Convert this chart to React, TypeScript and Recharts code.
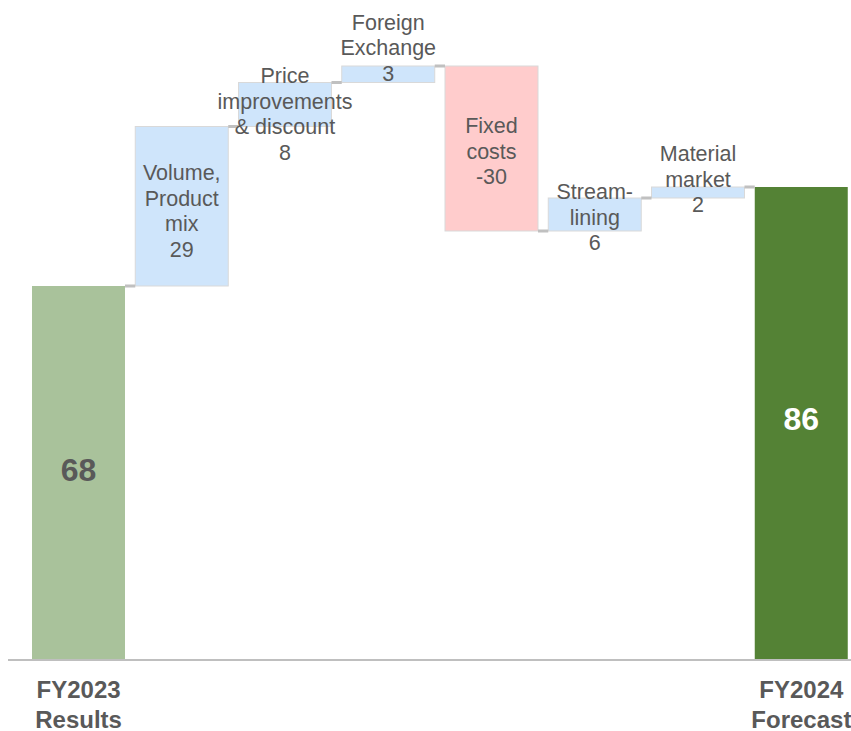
import { Bar, BarChart, Cell, LabelList, XAxis, YAxis } from "recharts";

const categories = [
  "FY2023 Results",
  "Volume, Product mix",
  "Price improvements & discount",
  "Foreign Exchange",
  "Fixed costs",
  "Stream-lining",
  "Material market",
  "FY2024 Forecast",
];
const barLabels = [
  [],
  ["Volume,", "Product", "mix"],
  ["Price", "improvements", "& discount"],
  ["Foreign", "Exchange"],
  ["Fixed", "costs"],
  ["Stream-", "lining"],
  ["Material", "market"],
  [],
];
const tickLabels = [["FY2023", "Results"], [], [], [], [], [], [], ["FY2024", "Forecast"]];
const kinds = ["start", "step", "step", "step", "step", "step", "step", "end"];
const values = [68, 29, 8, 3, -30, 6, 2, 86];

// running total -> invisible base + visible height
let running = 0;
const data = categories.map((name, i) => {
  const v = values[i];
  let base = 0;
  let size = v;
  if (kinds[i] === "step") {
    base = v >= 0 ? running : running + v;
    size = Math.abs(v);
    running += v;
  } else {
    running = v;
  }
  return { name, base, size, value: v, kind: kinds[i], idx: i };
});

const FONT = "'Liberation Sans', Arial, sans-serif";
const TEXT = "#595959";
const GAP = 103.25 - 93;
// manual nudges so the labels don't collide
const labelShift = [-3, 5, 10, -26, 3, 3, -13, -5];

function fillFor(d: any) {
  if (d.kind === "start") return "#a9c29b";
  if (d.kind === "end") return "#548235";
  return d.value < 0 ? "#ffcccc" : "#cfe5fb";
}

function WaterfallBar(props: any) {
  const { x, y, width, height, payload } = props;
  const isStep = payload.kind === "step";
  let level: number | null = null;
  if (payload.kind === "end") level = y;
  else if (isStep) level = payload.value >= 0 ? y + height : y;
  return (
    <g>
      <rect
        x={x}
        y={y}
        width={width}
        height={height}
        fill={fillFor(payload)}
        stroke={isStep ? "#d9d9d9" : "none"}
        strokeWidth={1}
      />
      {level !== null && (
        <rect x={x - GAP} y={level - 1.5} width={GAP} height={3} fill="#c0c0c0" />
      )}
    </g>
  );
}

function BarText(props: any) {
  const { x, y, width, height, index } = props;
  const d = data[index];
  const cx = x + width / 2;
  const cy = y + height / 2 + labelShift[index];
  if (d.kind !== "step") {
    return (
      <text
        x={cx}
        y={cy}
        textAnchor="middle"
        dominantBaseline="central"
        fontFamily={FONT}
        fontWeight="bold"
        fontSize={32}
        fill={d.kind === "end" ? "#ffffff" : TEXT}
      >
        {d.value}
      </text>
    );
  }
  const lines = [...barLabels[index], String(d.value)];
  const lh = 25.5;
  const top = cy - ((lines.length - 1) * lh) / 2;
  return (
    <g>
      {lines.map((t, k) => (
        <text
          key={k}
          x={cx}
          y={top + k * lh}
          textAnchor="middle"
          dominantBaseline="central"
          fontFamily={FONT}
          fontSize={21.5}
          fill={TEXT}
        >
          {t}
        </text>
      ))}
    </g>
  );
}

function CategoryTick(props: any) {
  const { x, y, index } = props;
  const lines = tickLabels[index] || [];
  return (
    <g>
      {lines.map((t, k) => (
        <text
          key={k}
          x={x}
          y={y + 21 + k * 30}
          textAnchor="middle"
          dominantBaseline="central"
          fontFamily={FONT}
          fontWeight="bold"
          fontSize={24}
          fill={TEXT}
        >
          {t}
        </text>
      ))}
    </g>
  );
}

export default function App() {
  return (
    <div style={{ position: "absolute", left: 0, top: 0, width: 851, height: 731, overflow: "hidden", background: "#fff" }}>
      <BarChart
        width={853}
        height={731}
        data={data}
        margin={{ top: 0, right: 0, left: 8, bottom: 0 }}
        barSize={93}
      >
        <XAxis
          dataKey="name"
          height={71}
          interval={0}
          tickLine={false}
          axisLine={{ stroke: "#bfbfbf", strokeWidth: 2 }}
          padding={{ left: 19, right: 0 }}
          tick={<CategoryTick />}
        />
        <YAxis hide domain={[0, 120]} />
        <Bar dataKey="base" stackId="w" fill="transparent" isAnimationActive={false} />
        <Bar dataKey="size" stackId="w" shape={<WaterfallBar />} isAnimationActive={false}>
          {data.map((d, i) => (
            <Cell key={i} fill={fillFor(d)} />
          ))}
          <LabelList dataKey="size" content={<BarText />} />
        </Bar>
      </BarChart>
    </div>
  );
}
